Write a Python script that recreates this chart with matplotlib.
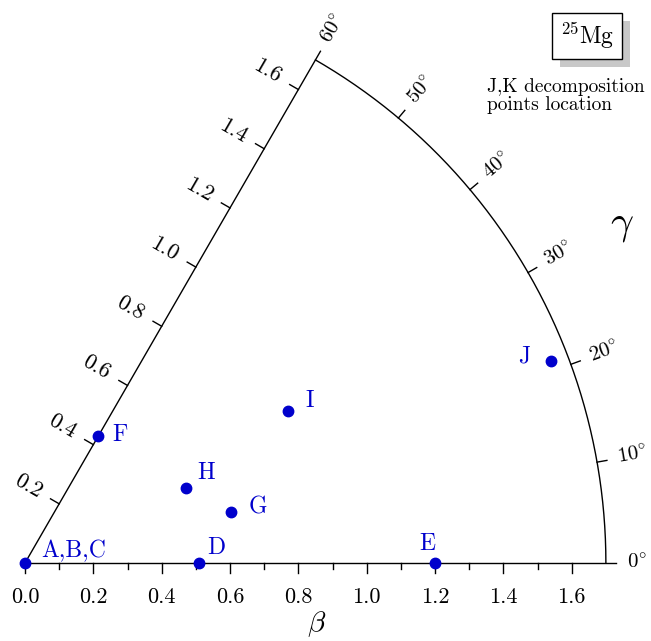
import numpy as np
import matplotlib as mpl
mpl.use('Agg')
from matplotlib import pyplot as plt
import matplotlib.patheffects as pe

plt.rcParams['font.family'] = ['cmr10', 'DejaVu Serif']
plt.rcParams['mathtext.fontset'] = 'cm'
plt.rcParams['axes.formatter.use_mathtext'] = True

# decomposition points, (beta, gamma in degrees)
names = ['A,B,C', 'D', 'E', 'F', 'G', 'H', 'I', 'J']
beta = [0.0, 0.51, 1.20, 0.43, 0.62, 0.52, 0.89, 1.65]
gamma = [0, 0, 0, 60, 14, 25, 30, 21]

beta_max = 1.7
beta_ticks = [0.0, 0.2, 0.4, 0.6, 0.8, 1.0, 1.2, 1.4, 1.6]
beta_minor = [0.1, 0.3, 0.5, 0.7, 0.9, 1.1, 1.3, 1.5]
radial_ticks = [0.2, 0.4, 0.6, 0.8, 1.0, 1.2, 1.4, 1.6]
gamma_ticks = [0, 10, 20, 30, 40, 50, 60]

# label placement (pixels, y up) and alignment per point
lab_off = [(16, 6), (8, 9), (-8, 13), (14, -5), (18, -2), (11, 9), (17, 4), (-21, -2)]
lab_ha = ['left', 'left', 'center', 'left', 'left', 'left', 'left', 'right']

S = 341.7          # pixels per unit of beta
px = 1.0 / S
BLUE = '#0000cc'

fig = plt.figure(figsize=(6.51, 6.41), dpi=100)
ax = fig.add_axes([0, 0, 1, 1])
ax.set_xlim(-25 * px, 626 * px)
ax.set_ylim(-78 * px, 563 * px)
ax.axis('off')

tl = 10 * px
tl_minor = 6 * px
lw = 1.0
c60, s60 = np.cos(np.radians(60)), np.sin(np.radians(60))

# sector outline
th = np.radians(np.linspace(0, 60, 300))
ax.plot(beta_max * np.cos(th), beta_max * np.sin(th), color='k', lw=lw)
ax.plot([0, beta_max + tl], [0, 0], color='k', lw=lw)
ax.plot([0, (beta_max + tl) * c60], [0, (beta_max + tl) * s60], color='k', lw=lw)

# beta axis ticks
for b in beta_ticks:
    ax.plot([b, b], [0, -tl], color='k', lw=lw)
    ax.text(b, -24 * px, '%.1f' % b, ha='center', va='top', fontsize=16)
for b in beta_minor:
    ax.plot([b, b], [0, -tl_minor], color='k', lw=lw)

# ticks along the 60 deg edge
nx, ny = -s60, c60
for r in radial_ticks:
    bx, by = r * c60, r * s60
    ax.plot([bx, bx + tl * nx], [by, by + tl * ny], color='k', lw=lw)
    ax.text(bx + 36 * px * nx, by + 36 * px * ny, '%.1f' % r, rotation=-30,
            rotation_mode='anchor', ha='center', va='center', fontsize=16)

# gamma ticks on the arc
for g in gamma_ticks:
    cg, sg = np.cos(np.radians(g)), np.sin(np.radians(g))
    if 0 < g < 60:
        ax.plot([beta_max * cg, (beta_max + tl) * cg],
                [beta_max * sg, (beta_max + tl) * sg], color='k', lw=lw)
    rr = beta_max + 21 * px
    ax.text(rr * cg, rr * sg, r'$%d^{\circ}$' % g, rotation=g,
            rotation_mode='anchor', ha='left', va='center', fontsize=15)

# points
for n, b, g, off, ha in zip(names, beta, gamma, lab_off, lab_ha):
    x = b * np.cos(np.radians(g))
    y = b * np.sin(np.radians(g))
    ax.plot(x, y, 'o', color=BLUE, ms=7.5, zorder=5, clip_on=False)
    ax.annotate(n, (x, y), xytext=(off[0] * 0.72, off[1] * 0.72),
                textcoords='offset points', ha=ha, va='baseline',
                color=BLUE, fontsize=17)

# axis names
ax.text(0.852, -0.178, r'$\beta$', ha='center', va='center', fontsize=21)
ax.text(1.747, 0.986, r'$\gamma$', ha='center', va='center', fontsize=29)

# nucleus box with shadow
t = ax.text(1.645, 1.542, r'$^{25}\mathrm{Mg}$', ha='center', va='center', fontsize=17,
            bbox=dict(boxstyle='square,pad=0.33', fc='white', ec='black', lw=1.0))
t.get_bbox_patch().set_path_effects([
    pe.SimplePatchShadow(offset=(5.5, -5.5), shadow_rgbFace='#c8c8c8', alpha=1.0),
    pe.Normal()])

ax.text(1.352, 1.420, 'J,K decomposition\npoints location', ha='left', va='top',
        fontsize=14, linespacing=1.05)

plt.savefig('out.png', dpi=100)
